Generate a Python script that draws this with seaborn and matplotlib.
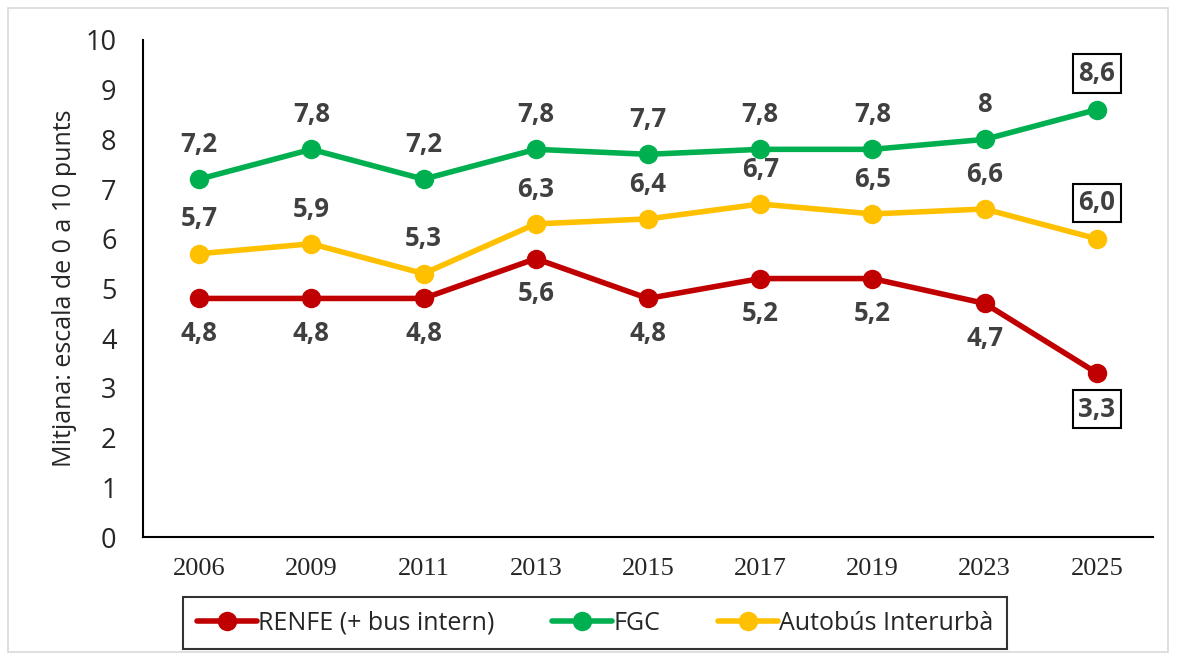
import seaborn as sns
from matplotlib import pyplot as plt
from matplotlib.patches import Rectangle
import pandas as pd

# Data
years = ["2006", "2009", "2011", "2013", "2015", "2017", "2019", "2023", "2025"]
renfe = [4.8, 4.8, 4.8, 5.6, 4.8, 5.2, 5.2, 4.7, 3.3]
fgc = [7.2, 7.8, 7.2, 7.8, 7.7, 7.8, 7.8, 8.0, 8.6]
autobus = [5.7, 5.9, 5.3, 6.3, 6.4, 6.7, 6.5, 6.6, 6.0]
series_names = ["RENFE (+ bus intern)", "FGC", "Autobús Interurbà"]
colors = ["#C00000", "#00B050", "#FFC000"]

df = pd.DataFrame({
    "any": years * 3,
    "valor": renfe + fgc + autobus,
    "serie": [n for n in series_names for _ in years],
})

sns.set_style("white")
plt.rcParams['font.family'] = ['Open Sans', 'DejaVu Sans']

fig = plt.figure(figsize=(11.78, 6.6), dpi=100)
ax = fig.add_axes([143 / 1178, 1 - 537 / 660, 1010 / 1178, 497 / 660])

sns.lineplot(data=df, x="any", y="valor", hue="serie", palette=colors,
             marker="o", markersize=14, markeredgewidth=0, linewidth=4,
             sort=False, ax=ax)

# data labels
def fmt(v, last):
    if last:
        return f"{v:.1f}".replace(".", ",")
    return f"{v:g}".replace(".", ",")

offsets = {series_names[0]: -25, series_names[1]: 25, series_names[2]: 25}
for name, vals in zip(series_names, [renfe, fgc, autobus]):
    for i, v in enumerate(vals):
        last = i == len(years) - 1
        kw = {}
        off = offsets[name]
        if last:
            kw["bbox"] = dict(boxstyle="square,pad=0.22", fc="white", ec="black", lw=1.5)
            off += 1 if off > 0 else -1
        ax.annotate(fmt(v, last), (i, v), xytext=(0, off),
                    textcoords="offset points", ha="center", va="center",
                    fontsize=18.5, fontweight="bold", color="#404040", **kw)

ax.set_xlim(-0.5, 8.5)
ax.set_ylim(0, 10)
ax.set_yticks(range(0, 11))
ax.set_xlabel("")
ax.set_ylabel("Mitjana: escala de 0 a 10 punts", fontsize=18, labelpad=6)
ax.tick_params(axis="y", labelsize=19.5, length=0, pad=19)
ax.tick_params(axis="x", length=0, pad=15)
for lab in ax.get_xticklabels():
    lab.set_fontfamily("Liberation Serif")
    lab.set_fontsize(19)

for s in ["top", "right"]:
    ax.spines[s].set_visible(False)
for s in ["left", "bottom"]:
    ax.spines[s].set_color("black")
    ax.spines[s].set_linewidth(1.5)

handles, labels = ax.get_legend_handles_labels()
leg = ax.legend(handles, labels, loc="center", bbox_to_anchor=(595 / 1178, 1 - 623 / 660),
                bbox_transform=fig.transFigure, ncol=3, fontsize=18, frameon=True,
                fancybox=False, edgecolor="black", handlelength=2.4, handletextpad=0.05,
                columnspacing=2.3, borderpad=0.55, borderaxespad=0)
leg.get_frame().set_linewidth(1.5)

fig.patches.append(Rectangle((8 / 1178, 1 - 652 / 660), 1160 / 1178, 644 / 660,
                             transform=fig.transFigure, fill=False, ec="#D9D9D9", lw=1.2))

plt.savefig("out.png", dpi=100)
